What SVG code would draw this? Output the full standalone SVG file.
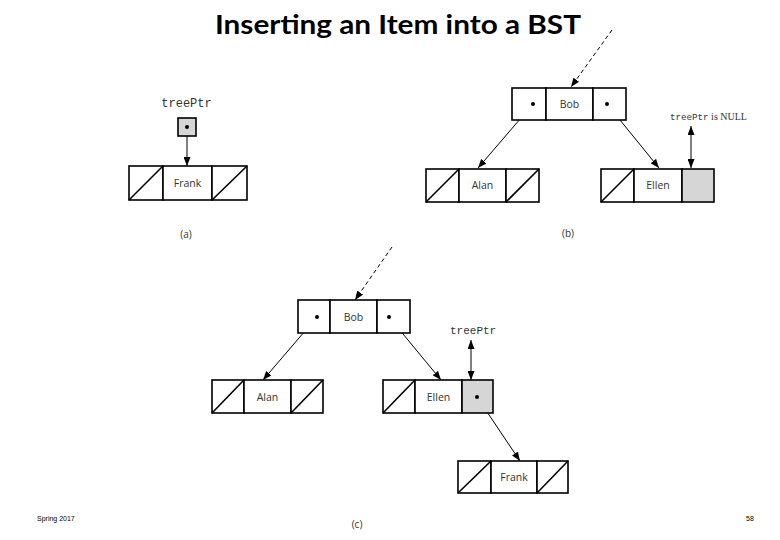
<svg xmlns="http://www.w3.org/2000/svg" width="780" height="540" viewBox="0 0 780 540">
<defs>
<marker id="ah" markerWidth="9" markerHeight="7" refX="9" refY="3.5" orient="auto" markerUnits="userSpaceOnUse"><path d="M0,0 L9,3.5 L0,7 z" fill="#000"/></marker>
<marker id="ahs" markerWidth="9" markerHeight="7" refX="0" refY="3.5" orient="auto" markerUnits="userSpaceOnUse"><path d="M9,0 L0,3.5 L9,7 z" fill="#000"/></marker>
</defs>
<style>
.cell{fill:#fff;stroke:#000;stroke-width:1.6}
.gray{fill:#d6d6d6;stroke:#000;stroke-width:1.6}
.sl{stroke:#000;stroke-width:1.6}
.nm{font-family:"Open Sans","DejaVu Sans",sans-serif;font-size:10.5px;fill:#333;text-anchor:middle}
.lab{font-family:"Open Sans","DejaVu Sans",sans-serif;font-size:10px;fill:#333;text-anchor:middle}
.mono{font-family:"Liberation Mono","Courier New",monospace;fill:#333}
.ln{stroke:#000;stroke-width:1;fill:none}
.dash{stroke:#000;stroke-width:1;fill:none;stroke-dasharray:4,3}
.dot{fill:#000}
</style>
<rect width="780" height="540" fill="#fff"/>
<text x="398" y="34" font-family="Lato,'Open Sans',sans-serif" font-weight="bold" font-size="26" text-anchor="middle" textLength="366" lengthAdjust="spacingAndGlyphs" fill="#000">Inserting an Item into a BST</text>

<g id="connectors">
<line class="ln" x1="187" y1="127" x2="187" y2="166" marker-end="url(#ah)"/>
<line class="ln" x1="533" y1="104" x2="478" y2="168" marker-end="url(#ah)"/>
<line class="ln" x1="607" y1="104" x2="659" y2="168" marker-end="url(#ah)"/>
<line class="dash" x1="612" y1="30" x2="571" y2="87" marker-end="url(#ah)"/>
<line class="ln" x1="691" y1="126" x2="691" y2="168" marker-start="url(#ahs)" marker-end="url(#ah)"/>
<line class="ln" x1="317" y1="317" x2="263" y2="380" marker-end="url(#ah)"/>
<line class="ln" x1="389" y1="317" x2="441" y2="380" marker-end="url(#ah)"/>
<line class="dash" x1="392" y1="247" x2="355" y2="300" marker-end="url(#ah)"/>
<line class="ln" x1="471" y1="340" x2="471" y2="380" marker-start="url(#ahs)" marker-end="url(#ah)"/>
<line class="ln" x1="477" y1="397" x2="520" y2="461" marker-end="url(#ah)"/>
</g>

<g id="a-treePtr">
<text class="mono" x="186.5" y="107" font-size="12" text-anchor="middle">treePtr</text>
<rect class="gray" x="178" y="118" width="18" height="18"/>
<circle class="dot" cx="187" cy="127" r="2"/>
</g>
<g id="a-frank">
<rect class="cell" x="129" y="166" width="34" height="34"/>
<line class="sl" x1="129" y1="200" x2="163" y2="166"/>
<rect class="cell" x="163" y="166" width="49" height="34"/>
<rect class="cell" x="212" y="166" width="35" height="34"/>
<line class="sl" x1="212" y1="200" x2="247" y2="166"/>
<text class="nm" x="187.5" y="187">Frank</text>
</g>
<text class="lab" x="186" y="238">(a)</text>

<g id="b-bob">
<rect class="cell" x="512" y="88" width="34" height="32"/>
<rect class="cell" x="546" y="88" width="47" height="32"/>
<rect class="cell" x="593" y="88" width="33" height="32"/>
<circle class="dot" cx="533" cy="104" r="2"/>
<circle class="dot" cx="607" cy="104" r="2"/>
<text class="nm" x="569.5" y="108">Bob</text>
</g>
<g id="b-alan">
<rect class="cell" x="426" y="169" width="33" height="33"/>
<line class="sl" x1="426" y1="202" x2="459" y2="169"/>
<rect class="cell" x="459" y="169" width="47" height="33"/>
<rect class="cell" x="506" y="169" width="33" height="33"/>
<line class="sl" x1="506" y1="202" x2="539" y2="169"/>
<text class="nm" x="482.5" y="189">Alan</text>
</g>
<g id="b-ellen">
<rect class="cell" x="601" y="169" width="33" height="33"/>
<line class="sl" x1="601" y1="202" x2="634" y2="169"/>
<rect class="cell" x="634" y="169" width="48" height="33"/>
<rect class="gray" x="682" y="169" width="32" height="33"/>
<text class="nm" x="658" y="189">Ellen</text>
</g>
<g id="b-null">
<text x="670" y="120" fill="#333"><tspan class="mono" font-size="9.2">treePtr</tspan><tspan font-family="'Liberation Serif',serif" font-size="10"> is NULL</tspan></text>
</g>
<text class="lab" x="568" y="237">(b)</text>

<g id="c-bob">
<rect class="cell" x="298" y="300" width="32" height="33"/>
<rect class="cell" x="330" y="300" width="47" height="33"/>
<rect class="cell" x="377" y="300" width="33" height="33"/>
<circle class="dot" cx="317" cy="317" r="2"/>
<circle class="dot" cx="389" cy="317" r="2"/>
<text class="nm" x="353.5" y="321">Bob</text>
</g>
<g id="c-alan">
<rect class="cell" x="212" y="380" width="32" height="33"/>
<line class="sl" x1="212" y1="413" x2="244" y2="380"/>
<rect class="cell" x="244" y="380" width="47" height="33"/>
<rect class="cell" x="291" y="380" width="32" height="33"/>
<line class="sl" x1="291" y1="413" x2="323" y2="380"/>
<text class="nm" x="267.5" y="401">Alan</text>
</g>
<g id="c-ellen">
<rect class="cell" x="383" y="380" width="32" height="33"/>
<line class="sl" x1="383" y1="413" x2="415" y2="380"/>
<rect class="cell" x="415" y="380" width="47" height="33"/>
<rect class="gray" x="462" y="380" width="31" height="33"/>
<circle class="dot" cx="477" cy="397" r="2"/>
<text class="nm" x="438.5" y="401">Ellen</text>
</g>
<g id="c-treePtr">
<text class="mono" x="450" y="334" font-size="11">treePtr</text>
</g>
<g id="c-frank">
<rect class="cell" x="458" y="461" width="33" height="32"/>
<line class="sl" x1="458" y1="493" x2="491" y2="461"/>
<rect class="cell" x="491" y="461" width="46" height="32"/>
<rect class="cell" x="537" y="461" width="31" height="32"/>
<line class="sl" x1="537" y1="493" x2="568" y2="461"/>
<text class="nm" x="514" y="481">Frank</text>
</g>
<text class="lab" x="357" y="528">(c)</text>

<text x="37" y="521" font-family="'Liberation Sans',sans-serif" font-size="7" fill="#000">Spring 2017</text>
<text x="750" y="521" font-family="'Liberation Sans',sans-serif" font-size="7" fill="#000" text-anchor="middle">58</text>
</svg>
